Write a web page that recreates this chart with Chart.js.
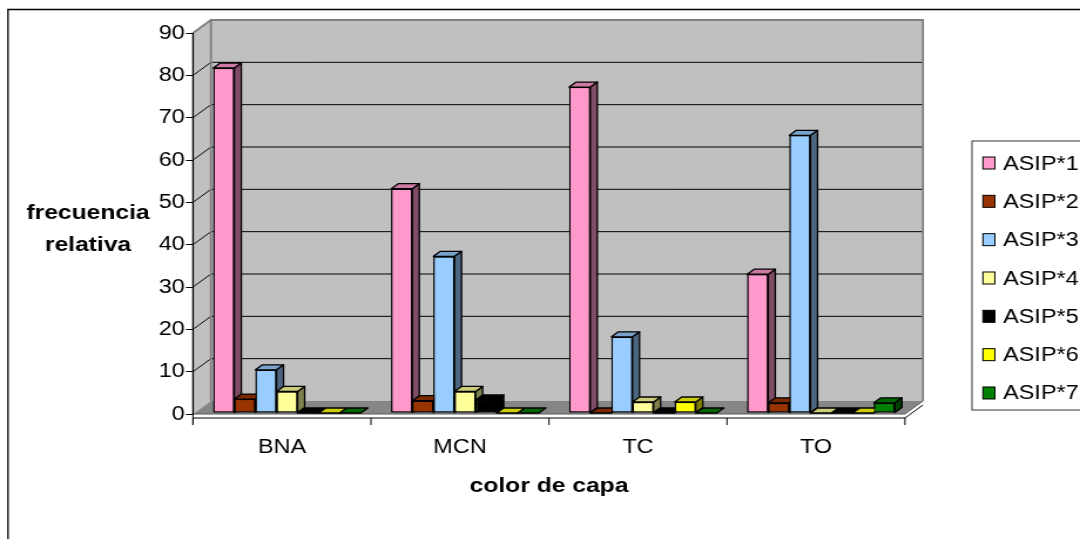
<!DOCTYPE html>
<html>
<head>
<meta charset="utf-8">
<script src="https://cdn.jsdelivr.net/npm/chart.js@4/dist/chart.umd.min.js"></script>
<style>
  html, body { margin: 0; padding: 0; background: #fff; overflow: hidden; }
  /* the drawing is laid out on a narrower canvas and widened to the page */
  #wrap { position: absolute; left: 0; top: 0; width: 920px; height: 539px;
          transform: scaleX(1.173913); transform-origin: 0 0; }
</style>
</head>
<body>
<div id="wrap"><canvas id="chart"></canvas></div>
<script>
// ---- data ----
const categories = ['BNA', 'MCN', 'TC', 'TO'];
const seriesNames = ['ASIP*1', 'ASIP*2', 'ASIP*3', 'ASIP*4', 'ASIP*5', 'ASIP*6', 'ASIP*7'];
const asip1 = [81.5, 53.0, 77.0, 32.8];
const asip2 = [3.3, 2.9, 0, 2.4];
const asip3 = [10.2, 37.0, 18.0, 65.6];
const asip4 = [5.1, 5.1, 2.6, 0];
const asip5 = [0, 3.1, 0, 0];
const asip6 = [0, 0, 2.6, 0];
const asip7 = [0, 0, 0, 2.4];
const yTicks = [0, 10, 20, 30, 40, 50, 60, 70, 80, 90];
const yTitle = ['frecuencia', 'relativa'];
const xTitle = 'color de capa';

// ---- styling ----
const seriesColors = ['#FF99CC', '#993300', '#99CCFF', '#FFFF99', '#000000', '#FFFF00', '#008000'];
const FONT = "'Liberation Sans', Arial, Helvetica, sans-serif";
const W = 920, H = 539;
const PLOT_LEFT = 164.4, PLOT_RIGHT = 770.9, PLOT_TOP = 33, PLOT_BOTTOM = 414;
const WALL_DX = 15.3, WALL_DY = -13;      // depth of the box (walls / floor)
const BAR_SHIFT_X = 4.3, BAR_SHIFT_Y = -1; // bars sit slightly behind the front plane
const BAR_DX = 6, BAR_DY = -5;             // depth of each column

Chart.defaults.font.family = FONT;
Chart.defaults.color = '#000';

const allSeries = [asip1, asip2, asip3, asip4, asip5, asip6, asip7];

function shade(hex, f) {
  const n = parseInt(hex.slice(1), 16);
  const r = Math.round(((n >> 16) & 255) * f);
  const g = Math.round(((n >> 8) & 255) * f);
  const b = Math.round((n & 255) * f);
  return `rgb(${r},${g},${b})`;
}

function polygon(ctx, pts) {
  ctx.beginPath();
  ctx.moveTo(pts[0][0], pts[0][1]);
  for (let i = 1; i < pts.length; i++) ctx.lineTo(pts[i][0], pts[i][1]);
  ctx.closePath();
}

// walls, floor, gridlines, frame and titles
const scenePlugin = {
  id: 'scene',
  beforeDraw(chart) {
    const ctx = chart.ctx;
    const a = chart.chartArea;
    const ys = chart.scales.y;
    const L = a.left, R = a.right, T = a.top, B = a.bottom;
    const dx = WALL_DX, dy = WALL_DY;
    ctx.save();
    ctx.fillStyle = '#fff';
    ctx.fillRect(0, 0, chart.width, chart.height);

    // outer frame
    ctx.strokeStyle = '#000';
    ctx.lineWidth = 1.3;
    ctx.beginPath();
    ctx.moveTo(6.8, chart.height);
    ctx.lineTo(6.8, 9.5);
    ctx.lineTo(chart.width, 9.5);
    ctx.stroke();

    // side wall and back wall
    ctx.fillStyle = '#C0C0C0';
    polygon(ctx, [[L, T], [L + dx, T + dy], [L + dx, B + dy], [L, B]]);
    ctx.fill();
    ctx.fillRect(L + dx, T + dy, R - L, B - T);

    // floor
    ctx.fillStyle = '#868686';
    polygon(ctx, [[L, B], [L + dx, B + dy], [R + dx, B + dy], [R, B]]);
    ctx.fill();

    // gridlines on side and back walls
    ctx.strokeStyle = '#000';
    ctx.lineWidth = 1;
    yTicks.forEach(v => {
      if (v === yTicks[0] || v === yTicks[yTicks.length - 1]) return;
      const yy = ys.getPixelForValue(v);
      ctx.beginPath();
      ctx.moveTo(L, yy);
      ctx.lineTo(L + dx, yy + dy);
      ctx.lineTo(R + dx, yy + dy);
      ctx.stroke();
    });

    // wall edges
    ctx.strokeStyle = '#808080';
    ctx.lineWidth = 1.8;
    ctx.beginPath();
    ctx.moveTo(L, B);
    ctx.lineTo(L, T);
    ctx.lineTo(L + dx, T + dy);
    ctx.lineTo(R + dx, T + dy);
    ctx.lineTo(R + dx, B + dy);
    ctx.moveTo(L + dx, T + dy);
    ctx.lineTo(L + dx, B + dy);
    ctx.stroke();
    ctx.strokeStyle = '#5a5a5a';
    ctx.lineWidth = 1;
    ctx.beginPath();
    ctx.moveTo(L, B);
    ctx.lineTo(R, B);
    ctx.lineTo(R + dx, B + dy);
    ctx.stroke();

    // category axis under the floor
    ctx.strokeStyle = '#000';
    ctx.lineWidth = 1;
    const ay = B + 4;
    ctx.beginPath();
    ctx.moveTo(L, ay);
    ctx.lineTo(R, ay);
    ctx.lineTo(R + dx, ay + dy);
    ctx.moveTo(L, B);
    ctx.lineTo(L, ay + 7);
    for (let i = 0; i <= categories.length; i++) {
      const x = L + i * (R - L) / categories.length;
      ctx.moveTo(x, ay);
      ctx.lineTo(x, ay + 7);
    }
    ctx.stroke();
    ctx.restore();
  },
  beforeDatasetsDraw(chart) {
    chart.ctx.save();
    chart.ctx.translate(BAR_SHIFT_X, BAR_SHIFT_Y);
  },
  afterDatasetsDraw(chart) {
    const ctx = chart.ctx;
    const metas = chart.data.datasets.map((d, i) => chart.getDatasetMeta(i));
    ctx.lineJoin = 'round';
    // paint each column back-to-front: side, top, then the library's front face
    for (let c = 0; c < categories.length; c++) {
      for (let s = 0; s < metas.length; s++) {
        const el = metas[s].data[c];
        const p = el.getProps(['x', 'y', 'base', 'width'], true);
        const l = p.x - p.width / 2, r = p.x + p.width / 2;
        const col = seriesColors[s];
        ctx.strokeStyle = '#000';
        ctx.lineWidth = 1.3;
        if (p.base - p.y > 0.5) {
          polygon(ctx, [[r, p.y], [r + BAR_DX, p.y + BAR_DY], [r + BAR_DX, p.base + BAR_DY], [r, p.base]]);
          ctx.fillStyle = shade(col, 0.5);
          ctx.fill();
          ctx.stroke();
        }
        polygon(ctx, [[l, p.y], [r, p.y], [r + BAR_DX, p.y + BAR_DY], [l + BAR_DX, p.y + BAR_DY]]);
        ctx.fillStyle = shade(col, 0.8);
        ctx.fill();
        ctx.stroke();
        el.draw(ctx);
      }
    }
    ctx.restore();
  },
  afterDraw(chart) {
    const ctx = chart.ctx;
    ctx.save();
    // value axis title, written horizontally
    ctx.font = `bold 21px ${FONT}`;
    ctx.fillStyle = '#000';
    ctx.textAlign = 'center';
    ctx.textBaseline = 'middle';
    ctx.fillText(yTitle[0], 75, 213);
    ctx.fillText(yTitle[1], 75, 245);

    // legend
    const lx = 828, ltop = 141, lbottom = 410;
    ctx.strokeStyle = '#333';
    ctx.lineWidth = 1;
    ctx.strokeRect(lx, ltop, chart.width - lx + 10, lbottom - ltop);
    ctx.font = `20px ${FONT}`;
    ctx.textAlign = 'left';
    seriesNames.forEach((name, i) => {
      const yc = 163 + i * 38.33;
      ctx.fillStyle = seriesColors[i];
      ctx.fillRect(837.3, yc - 6, 10.2, 12);
      ctx.strokeStyle = '#000';
      ctx.strokeRect(837.3, yc - 6, 10.2, 12);
      ctx.fillStyle = '#000';
      ctx.fillText(name, 854.4, yc + 1);
    });
    ctx.restore();
  }
};

new Chart(document.getElementById('chart'), {
  type: 'bar',
  data: {
    labels: categories,
    datasets: allSeries.map((vals, i) => ({
      label: seriesNames[i],
      data: vals,
      backgroundColor: seriesColors[i],
      borderColor: '#000',
      borderWidth: 1.3,
      borderSkipped: false,
      categoryPercentage: 0.83,
      barPercentage: 1.0,
      clip: false
    }))
  },
  options: {
    responsive: true,
    maintainAspectRatio: false,
    animation: false,
    events: [],
    layout: { padding: { left: 0, top: PLOT_TOP, right: W - PLOT_RIGHT, bottom: 0 } },
    plugins: { legend: { display: false }, tooltip: { enabled: false }, title: { display: false } },
    scales: {
      x: {
        type: 'category',
        offset: true,
        grid: { display: true, drawOnChartArea: false, drawTicks: true, tickLength: 11, color: 'rgba(0,0,0,0)' },
        border: { display: false },
        ticks: { font: { size: 20 }, color: '#000', padding: 10, maxRotation: 0 },
        title: { display: true, text: xTitle, font: { size: 21, weight: 'bold' }, color: '#000',
                 padding: { top: 0, bottom: 40.4 } },
        afterFit(scale) { scale.height = H - PLOT_BOTTOM; }
      },
      y: {
        min: yTicks[0],
        max: yTicks[yTicks.length - 1],
        ticks: { stepSize: 10, font: { size: 20 }, color: '#000', padding: 1 },
        grid: { drawOnChartArea: false, drawTicks: true, tickLength: 6, color: '#000', lineWidth: 1 },
        border: { display: true, color: '#000', width: 1 },
        afterFit(scale) { scale.width = PLOT_LEFT; }
      }
    }
  },
  plugins: [scenePlugin]
});
</script>
</body>
</html>
